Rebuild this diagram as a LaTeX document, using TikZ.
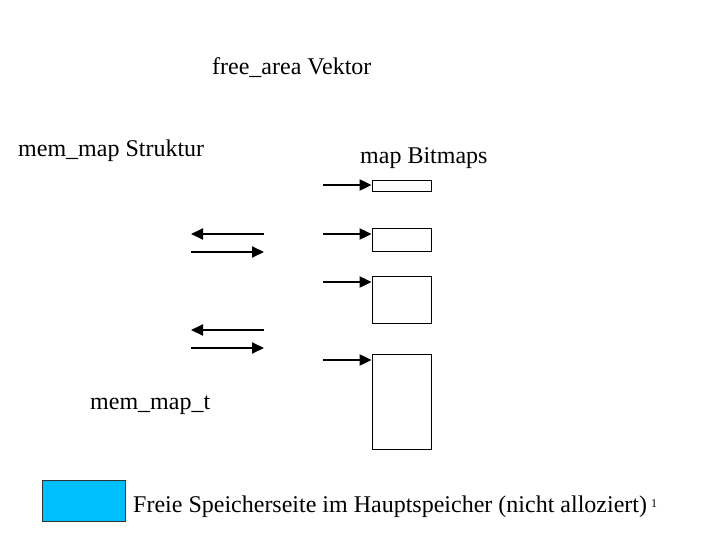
\documentclass[tikz,border=0pt]{standalone}
\usepackage{fontspec}
\setmainfont{Liberation Serif}
\usetikzlibrary{arrows.meta}

\tikzset{
  lbl/.style={anchor=west, inner sep=0pt, font=\fontsize{24}{28}\selectfont},
  bitbox/.style={draw, line width=0.8pt, inner sep=0pt, minimum width=59pt},
  ptr/.style={line width=2pt, -{Triangle[length=12pt, width=11pt]}}
}

\begin{document}
\begin{tikzpicture}[x=1pt, y=-1pt]
		\useasboundingbox (0,0) rectangle (720,540);
		% labels
		\node[lbl] (vektor) at (212,68) {free\_area Vektor};
		\node[lbl] (struktur) at (18,151) {mem\_map Struktur};
		\node[lbl] (bitmaps) at (360,158) {map Bitmaps};
		\node[lbl] (memt) at (90,405) {mem\_map\_t};
		% map bitmaps
		\node[bitbox, minimum height=11pt] (bm1) at (401.5,185.5) {};
		\node[bitbox, minimum height=23pt] (bm2) at (401.5,239.5) {};
		\node[bitbox, minimum height=47pt] (bm3) at (401.5,299.5) {};
		\node[bitbox, minimum height=95pt] (bm4) at (401.5,401.5) {};
		\coordinate (f1) at (323,185);
		\coordinate (f2) at (323,234);
		\coordinate (f3) at (323,282);
		\coordinate (f4) at (323,360);
		\draw[ptr] (f1) -- (f1 -| bm1.west);
		\draw[ptr] (f2) -- (f2 -| bm2.west);
		\draw[ptr] (f3) -- (f3 -| bm3.west);
		\draw[ptr] (f4) -- (f4 -| bm4.west);
		% mem_map list
		\coordinate (p1) at (264,234);  \coordinate (q1) at (191,234);
		\coordinate (p2) at (191,252);  \coordinate (q2) at (264,252);
		\coordinate (p3) at (264,330);  \coordinate (q3) at (191,330);
		\coordinate (p4) at (191,348);  \coordinate (q4) at (264,348);
		\draw[ptr] (p1) -- (q1);
		\draw[ptr] (p2) -- (q2);
		\draw[ptr] (p3) -- (q3);
		\draw[ptr] (p4) -- (q4);
		% legend
		\node[draw=black!80, line width=1pt, fill={rgb,255:red,0;green,191;blue,255}, inner sep=0pt, minimum width=83pt, minimum height=41pt] (frei) at (83.5,500.5) {};
		\node[lbl] (freitxt) at (133,507) {Freie Speicherseite im Hauptspeicher (nicht alloziert)};
		\node[lbl, font=\fontsize{12}{14}\selectfont] (pgnum) at (651,504) {1};
	\end{tikzpicture}
\end{document}
